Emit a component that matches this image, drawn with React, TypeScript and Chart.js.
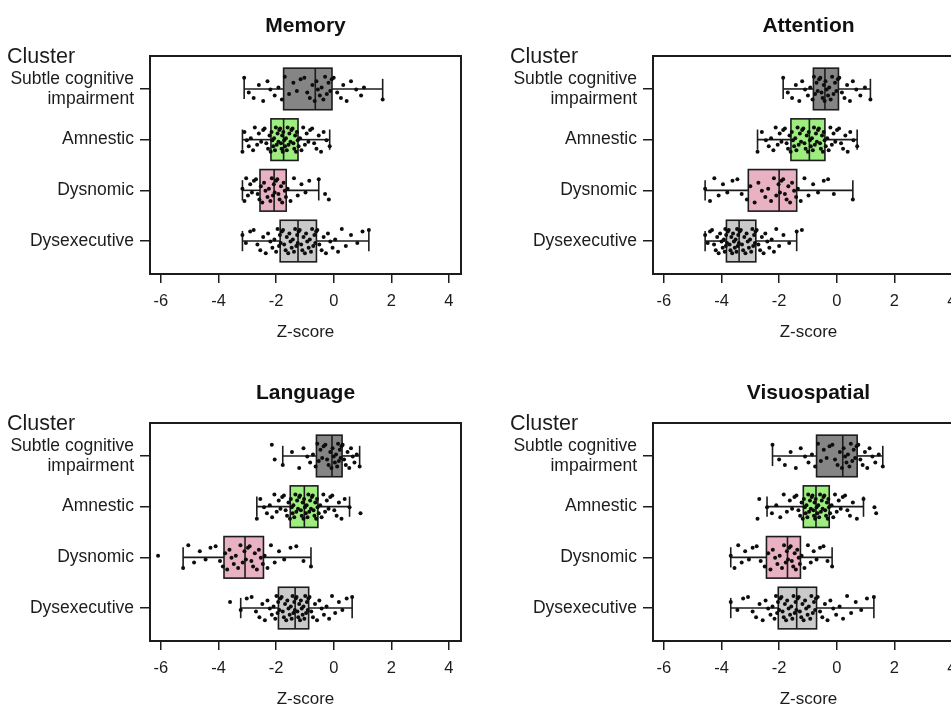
import React, { useEffect, useRef } from "react";
import { Chart, registerables } from "chart.js";

Chart.register(...registerables);

// ---------- data ----------
const CATEGORIES: (string | string[])[] = [["Subtle cognitive", "impairment"], "Amnestic", "Dysnomic", "Dysexecutive"];
const DOMAINS = ["Memory", "Attention", "Language", "Visuospatial"];
const X_TICKS = [-6, -4, -2, 0, 2, 4];
const AXIS_TITLE = "Z-score";
const GROUP_TITLE = "Cluster";

// box statistics per cluster: [whisker min, Q1, median, Q3, whisker max]
const MEMORY_STATS = [
  [-3.11, -1.74, -0.64, -0.06, 1.7],
  [-3.17, -2.18, -1.74, -1.24, -0.14],
  [-3.17, -2.56, -2.07, -1.65, -0.52],
  [-3.17, -1.86, -1.24, -0.6, 1.22],
];
const ATTENTION_STATS = [
  [-1.86, -0.81, -0.41, 0.06, 1.17],
  [-2.75, -1.59, -0.95, -0.41, 0.71],
  [-4.57, -3.07, -2.0, -1.39, 0.56],
  [-4.57, -3.83, -3.39, -2.81, -1.39],
];
const LANGUAGE_STATS = [
  [-1.77, -0.6, -0.06, 0.29, 0.9],
  [-2.67, -1.51, -1.02, -0.55, 0.55],
  [-5.23, -3.81, -3.08, -2.44, -0.79],
  [-3.23, -1.92, -1.34, -0.87, 0.64],
];
const VISUOSPATIAL_STATS = [
  [-2.23, -0.7, 0.21, 0.71, 1.6],
  [-2.42, -1.16, -0.72, -0.26, 0.93],
  [-3.68, -2.44, -1.71, -1.26, -0.16],
  [-3.68, -2.03, -1.39, -0.7, 1.29],
];

// individual Z-scores (jittered points)
const MEMORY_SUBTLE = [-3.11, -2.95, -2.78, -2.6, -2.45, -2.3, -2.2, -2.05, -1.92, -1.8, -1.7, -1.55, -1.4, -1.28, -1.15, -1.02, -0.92, -0.83, -0.74, -0.66, -0.6, -0.55, -0.48, -0.42, -0.36, -0.3, -0.24, -0.18, -0.12, -0.07, 0.0, 0.12, 0.25, 0.33, 0.45, 0.6, 0.78, 0.95, 1.05, 1.7];
const MEMORY_AMNESTIC = [-3.17, -3.1, -3.02, -2.95, -2.88, -2.8, -2.74, -2.66, -2.6, -2.52, -2.45, -2.4, -2.34, -2.28, -2.23, -2.19, -2.16, -2.13, -2.1, -2.07, -2.04, -2.01, -1.98, -1.95, -1.92, -1.89, -1.86, -1.83, -1.81, -1.79, -1.77, -1.75, -1.72, -1.69, -1.66, -1.63, -1.6, -1.57, -1.54, -1.5, -1.47, -1.43, -1.4, -1.37, -1.34, -1.31, -1.28, -1.25, -1.22, -1.17, -1.12, -1.06, -1.0, -0.94, -0.88, -0.82, -0.75, -0.68, -0.6, -0.52, -0.44, -0.35, -0.25, -0.14];
const MEMORY_DYSNOMIC = [-3.17, -3.1, -3.04, -2.98, -2.9, -2.84, -2.77, -2.7, -2.64, -2.58, -2.53, -2.48, -2.42, -2.37, -2.3, -2.25, -2.2, -2.15, -2.11, -2.08, -2.05, -2.0, -1.96, -1.92, -1.88, -1.83, -1.79, -1.74, -1.7, -1.66, -1.6, -1.5, -1.38, -1.25, -1.12, -0.98, -0.85, -0.52, -0.3, -0.17];
const MEMORY_DYSEXECUTIVE = [-3.17, -3.05, -2.9, -2.78, -2.65, -2.55, -2.45, -2.36, -2.28, -2.2, -2.13, -2.06, -2.0, -1.95, -1.9, -1.87, -1.84, -1.8, -1.76, -1.72, -1.67, -1.63, -1.58, -1.54, -1.5, -1.46, -1.42, -1.38, -1.34, -1.3, -1.27, -1.25, -1.22, -1.18, -1.13, -1.09, -1.05, -1.0, -0.96, -0.92, -0.87, -0.83, -0.79, -0.75, -0.71, -0.67, -0.64, -0.61, -0.57, -0.5, -0.42, -0.35, -0.27, -0.2, -0.12, -0.04, 0.05, 0.15, 0.28, 0.42, 0.6, 0.82, 1.0, 1.22];

const ATTENTION_SUBTLE = [-1.86, -1.7, -1.55, -1.42, -1.3, -1.2, -1.1, -1.0, -0.92, -0.84, -0.79, -0.75, -0.7, -0.66, -0.61, -0.57, -0.53, -0.49, -0.45, -0.42, -0.39, -0.35, -0.3, -0.26, -0.21, -0.16, -0.11, -0.06, -0.01, 0.04, 0.09, 0.18, 0.27, 0.36, 0.46, 0.56, 0.68, 0.82, 0.98, 1.17];
const ATTENTION_AMNESTIC = [-2.75, -2.6, -2.46, -2.36, -2.28, -2.2, -2.12, -2.05, -1.98, -1.92, -1.86, -1.8, -1.74, -1.69, -1.64, -1.6, -1.56, -1.52, -1.48, -1.44, -1.4, -1.36, -1.32, -1.28, -1.24, -1.2, -1.16, -1.12, -1.08, -1.04, -1.0, -0.97, -0.93, -0.9, -0.86, -0.83, -0.79, -0.76, -0.72, -0.69, -0.65, -0.62, -0.58, -0.55, -0.51, -0.48, -0.45, -0.42, -0.38, -0.33, -0.28, -0.22, -0.17, -0.11, -0.05, 0.01, 0.08, 0.15, 0.22, 0.3, 0.38, 0.47, 0.58, 0.71];
const ATTENTION_DYSNOMIC = [-4.57, -4.4, -4.25, -4.1, -3.95, -3.8, -3.62, -3.45, -3.3, -3.12, -3.0, -2.85, -2.72, -2.6, -2.48, -2.38, -2.28, -2.18, -2.1, -2.02, -1.97, -1.92, -1.86, -1.8, -1.74, -1.68, -1.62, -1.55, -1.48, -1.41, -1.35, -1.25, -1.12, -0.98, -0.82, -0.65, -0.45, -0.3, -0.1, 0.56];
const ATTENTION_DYSEXECUTIVE = [-4.57, -4.48, -4.4, -4.33, -4.26, -4.2, -4.15, -4.1, -4.05, -4.0, -3.96, -3.92, -3.89, -3.87, -3.85, -3.84, -3.81, -3.78, -3.75, -3.72, -3.69, -3.66, -3.63, -3.6, -3.57, -3.54, -3.51, -3.48, -3.46, -3.44, -3.42, -3.4, -3.37, -3.33, -3.29, -3.25, -3.21, -3.17, -3.13, -3.09, -3.05, -3.01, -2.97, -2.93, -2.9, -2.87, -2.84, -2.82, -2.78, -2.72, -2.66, -2.6, -2.54, -2.48, -2.41, -2.34, -2.26, -2.18, -2.1, -2.0, -1.85, -1.65, -1.39, -1.21];

const LANGUAGE_SUBTLE = [-2.15, -2.05, -1.77, -1.45, -1.2, -1.05, -0.92, -0.82, -0.72, -0.63, -0.57, -0.52, -0.46, -0.4, -0.35, -0.29, -0.23, -0.18, -0.12, -0.08, -0.04, 0.0, 0.04, 0.08, 0.12, 0.15, 0.18, 0.21, 0.24, 0.27, 0.31, 0.36, 0.42, 0.48, 0.54, 0.6, 0.66, 0.72, 0.8, 0.9];
const LANGUAGE_AMNESTIC = [-2.67, -2.55, -2.42, -2.32, -2.22, -2.14, -2.06, -1.98, -1.91, -1.85, -1.79, -1.73, -1.67, -1.62, -1.57, -1.52, -1.49, -1.46, -1.43, -1.4, -1.37, -1.33, -1.3, -1.27, -1.24, -1.2, -1.17, -1.14, -1.11, -1.08, -1.05, -1.03, -1.0, -0.97, -0.94, -0.91, -0.88, -0.85, -0.82, -0.79, -0.76, -0.73, -0.7, -0.67, -0.64, -0.61, -0.58, -0.56, -0.52, -0.47, -0.42, -0.36, -0.3, -0.24, -0.18, -0.12, -0.05, 0.02, 0.1, 0.18, 0.27, 0.38, 0.55, 0.93];
const LANGUAGE_DYSNOMIC = [-6.1, -5.23, -5.05, -4.85, -4.65, -4.45, -4.28, -4.1, -3.95, -3.85, -3.77, -3.7, -3.62, -3.55, -3.47, -3.4, -3.32, -3.24, -3.16, -3.1, -3.05, -2.98, -2.92, -2.86, -2.8, -2.74, -2.67, -2.6, -2.53, -2.46, -2.4, -2.3, -2.18, -2.05, -1.9, -1.72, -1.5, -1.3, -1.05, -0.79];
const LANGUAGE_DYSEXECUTIVE = [-3.6, -3.23, -3.02, -2.85, -2.7, -2.58, -2.48, -2.39, -2.3, -2.22, -2.15, -2.09, -2.03, -1.99, -1.95, -1.93, -1.89, -1.85, -1.81, -1.77, -1.73, -1.69, -1.65, -1.61, -1.57, -1.53, -1.49, -1.46, -1.43, -1.4, -1.37, -1.35, -1.32, -1.29, -1.26, -1.23, -1.2, -1.17, -1.14, -1.11, -1.08, -1.05, -1.02, -0.99, -0.96, -0.93, -0.9, -0.88, -0.84, -0.78, -0.72, -0.65, -0.58, -0.5, -0.42, -0.34, -0.25, -0.16, -0.06, 0.05, 0.18, 0.3, 0.45, 0.64];

const VISUOSPATIAL_SUBTLE = [-2.23, -2.0, -1.8, -1.6, -1.42, -1.25, -1.1, -0.98, -0.86, -0.75, -0.65, -0.55, -0.45, -0.35, -0.25, -0.15, -0.06, 0.03, 0.11, 0.18, 0.24, 0.29, 0.34, 0.39, 0.44, 0.49, 0.54, 0.59, 0.64, 0.69, 0.75, 0.82, 0.9, 0.98, 1.06, 1.14, 1.24, 1.34, 1.46, 1.6];
const VISUOSPATIAL_AMNESTIC = [-2.75, -2.69, -2.42, -2.25, -2.1, -1.96, -1.84, -1.73, -1.63, -1.55, -1.47, -1.4, -1.33, -1.27, -1.22, -1.18, -1.14, -1.11, -1.08, -1.05, -1.02, -0.99, -0.96, -0.93, -0.9, -0.87, -0.84, -0.81, -0.79, -0.77, -0.75, -0.73, -0.7, -0.67, -0.64, -0.61, -0.58, -0.55, -0.52, -0.49, -0.46, -0.43, -0.4, -0.37, -0.34, -0.31, -0.29, -0.27, -0.23, -0.18, -0.12, -0.06, 0.0, 0.07, 0.14, 0.21, 0.29, 0.37, 0.46, 0.56, 0.7, 0.93, 1.31, 1.37];
const VISUOSPATIAL_DYSNOMIC = [-3.68, -3.55, -3.42, -3.3, -3.18, -3.05, -2.92, -2.78, -2.64, -2.5, -2.38, -2.3, -2.22, -2.14, -2.06, -1.98, -1.9, -1.83, -1.77, -1.73, -1.69, -1.65, -1.6, -1.56, -1.51, -1.46, -1.42, -1.37, -1.32, -1.28, -1.22, -1.12, -1.0, -0.9, -0.8, -0.7, -0.58, -0.46, -0.32, -0.16];
const VISUOSPATIAL_DYSEXECUTIVE = [-3.68, -3.45, -3.25, -3.08, -2.92, -2.8, -2.68, -2.57, -2.47, -2.38, -2.3, -2.23, -2.16, -2.11, -2.07, -2.04, -2.0, -1.96, -1.92, -1.88, -1.84, -1.8, -1.76, -1.72, -1.67, -1.62, -1.58, -1.54, -1.5, -1.46, -1.43, -1.4, -1.36, -1.32, -1.28, -1.23, -1.19, -1.15, -1.1, -1.06, -1.01, -0.97, -0.92, -0.88, -0.83, -0.79, -0.75, -0.72, -0.66, -0.58, -0.5, -0.41, -0.32, -0.22, -0.12, -0.02, 0.1, 0.22, 0.36, 0.5, 0.66, 0.85, 1.05, 1.29];

// ---------- style ----------
const BOX_COLORS = ["#858585", "#9dee7f", "#e8b2c3", "#cacaca"];
const JITTER = [-0.22, 0.07, 0.18, -0.08, 0.24, -0.15, 0.01, 0.13, -0.03, 0.21, -0.24, 0.1, -0.12, 0.04, -0.19];
const FONT = "'Liberation Sans', Arial, Helvetica, sans-serif";
const INK = "#1c1c1c";
const CW = 480;
const CH = 360;

const PANELS = [
  { title: DOMAINS[0], stats: MEMORY_STATS, points: [MEMORY_SUBTLE, MEMORY_AMNESTIC, MEMORY_DYSNOMIC, MEMORY_DYSEXECUTIVE], left: 0, top: 0 },
  { title: DOMAINS[1], stats: ATTENTION_STATS, points: [ATTENTION_SUBTLE, ATTENTION_AMNESTIC, ATTENTION_DYSNOMIC, ATTENTION_DYSEXECUTIVE], left: 503, top: 0 },
  { title: DOMAINS[2], stats: LANGUAGE_STATS, points: [LANGUAGE_SUBTLE, LANGUAGE_AMNESTIC, LANGUAGE_DYSNOMIC, LANGUAGE_DYSEXECUTIVE], left: 0, top: 367 },
  { title: DOMAINS[3], stats: VISUOSPATIAL_STATS, points: [VISUOSPATIAL_SUBTLE, VISUOSPATIAL_AMNESTIC, VISUOSPATIAL_DYSNOMIC, VISUOSPATIAL_DYSEXECUTIVE], left: 503, top: 367 },
];

function Panel({ title, stats, points, left, top }: any) {
  const ref = useRef<HTMLCanvasElement>(null);
  useEffect(() => {
    const canvas = ref.current!;
    const data: { x: number; y: number }[] = [];
    points.forEach((arr: number[], ci: number) =>
      arr.forEach((x: number, i: number) => data.push({ x, y: ci + 1 + JITTER[(i + ci * 4) % JITTER.length] }))
    );
    const HALF = 0.41;
    const CAP = 0.2;
    const boxPlugin = {
      id: "boxes",
      beforeDatasetsDraw(chart: any) {
        const { ctx, scales } = chart;
        const x = scales.x;
        const y = scales.y;
        ctx.save();
        ctx.lineWidth = 1.6;
        ctx.strokeStyle = INK;
        const line = (x1: number, y1: number, x2: number, y2: number) => {
          ctx.beginPath();
          ctx.moveTo(x1, y1);
          ctx.lineTo(x2, y2);
          ctx.stroke();
        };
        stats.forEach((s: number[], i: number) => {
          const [mn, q1, md, q3, mx] = s;
          const c = i + 1;
          const yc = y.getPixelForValue(c);
          const yt = y.getPixelForValue(c - HALF);
          const yb = y.getPixelForValue(c + HALF);
          const ct = y.getPixelForValue(c - CAP);
          const cb = y.getPixelForValue(c + CAP);
          const px = (v: number) => x.getPixelForValue(v);
          line(px(mn), yc, px(q1), yc);
          line(px(q3), yc, px(mx), yc);
          line(px(mn), ct, px(mn), cb);
          line(px(mx), ct, px(mx), cb);
          ctx.fillStyle = BOX_COLORS[i];
          ctx.fillRect(px(q1), yt, px(q3) - px(q1), yb - yt);
          ctx.strokeRect(px(q1), yt, px(q3) - px(q1), yb - yt);
          line(px(md), yt, px(md), yb);
        });
        ctx.restore();
      },
      afterDraw(chart: any) {
        const { ctx, chartArea } = chart;
        const cx = (chartArea.left + chartArea.right) / 2;
        ctx.save();
        ctx.strokeStyle = INK;
        ctx.lineWidth = 2;
        ctx.strokeRect(chartArea.left, chartArea.top, chartArea.right - chartArea.left, chartArea.bottom - chartArea.top);
        ctx.fillStyle = "#111";
        ctx.textBaseline = "alphabetic";
        ctx.textAlign = "center";
        ctx.font = `bold 21px ${FONT}`;
        ctx.fillText(title, cx, 32);
        ctx.font = `17px ${FONT}`;
        ctx.fillStyle = INK;
        ctx.fillText(AXIS_TITLE, cx, 337);
        ctx.textAlign = "left";
        ctx.font = `21.5px ${FONT}`;
        ctx.fillText(GROUP_TITLE, 7, 63);
        ctx.restore();
      },
    };
    const chart = new Chart(canvas, {
      type: "scatter",
      data: {
        datasets: [
          {
            data,
            pointRadius: 2,
            pointHoverRadius: 2,
            backgroundColor: "#0d0d0d",
            borderWidth: 0,
          },
        ],
      },
      options: {
        responsive: false,
        animation: false,
        devicePixelRatio: 1,
        events: [],
        layout: { padding: { top: 56, right: CW - 461, left: 0, bottom: 0 } },
        plugins: { legend: { display: false }, tooltip: { enabled: false } },
        scales: {
          x: {
            type: "linear",
            min: -6.38,
            max: 4.42,
            afterBuildTicks: (s: any) => {
              s.ticks = X_TICKS.map((v) => ({ value: v }));
            },
            afterFit: (s: any) => {
              s.height = CH - 274;
            },
            ticks: { font: { family: FONT, size: 16.5 }, color: INK, padding: 9, maxRotation: 0, callback: (v: any) => String(v) },
            grid: { drawOnChartArea: false, tickLength: 9, color: INK, lineWidth: 1.5 },
            border: { display: false },
          },
          y: {
            type: "linear",
            min: 0.35,
            max: 4.65,
            reverse: true,
            afterBuildTicks: (s: any) => {
              s.ticks = [1, 2, 3, 4].map((v) => ({ value: v }));
            },
            afterFit: (s: any) => {
              s.width = 150;
            },
            ticks: { font: { family: FONT, size: 17.5, lineHeight: 1.15 }, color: INK, padding: 6, callback: (v: any) => CATEGORIES[Number(v) - 1] },
            grid: { drawOnChartArea: false, tickLength: 10, color: INK, lineWidth: 1.5 },
            border: { display: false },
          },
        },
      } as any,
      plugins: [boxPlugin],
    });
    return () => chart.destroy();
  }, []);
  return (
    <canvas
      ref={ref}
      width={CW}
      height={CH}
      style={{ position: "absolute", left, top, width: CW, height: CH }}
    />
  );
}

export default function App() {
  return (
    <div style={{ position: "fixed", left: 0, top: 0, width: 951, height: 707, overflow: "hidden", background: "#fff" }}>
      {PANELS.map((p) => (
        <Panel key={p.title} {...p} />
      ))}
    </div>
  );
}
